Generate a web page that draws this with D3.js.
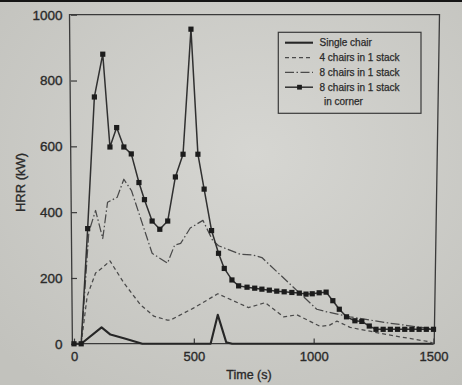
<!DOCTYPE html>
<html><head><meta charset="utf-8">
<script src="https://cdn.jsdelivr.net/npm/d3@7"></script>
<style>html,body{margin:0;padding:0;background:#cfcfcb;}svg{display:block}</style>
</head><body><svg id="c" width="462" height="385"></svg>
<script>
// ---- data ----
const legendLabels = ["Single chair", "4 chairs in 1 stack", "8 chairs in 1 stack", "8 chairs in 1 stack"];
const legendSub = "in corner";
const xTitle = "Time (s)";
const yTitle = "HRR (kW)";
const xTicks = [0, 500, 1000, 1500];
const yTicks = [0, 200, 400, 600, 800, 1000];

const singleT = [0, 30, 115, 152, 215, 285, 570, 600, 635, 660, 1500];
const singleY = [0, 0, 50, 28, 15, 0, 0, 88, 5, 0, 0];

const fourT = [0, 30, 55, 90, 117, 150, 208, 277, 333, 390, 402, 500, 600, 728, 798, 874, 930, 1027, 1065, 1097, 1152, 1305, 1485, 1500];
const fourY = [0, 0, 145, 215, 230, 252, 185, 119, 84, 72, 72, 109, 152, 110, 125, 82, 88, 53, 56, 69, 50, 28, 6, 0];

const eightT = [0, 30, 62, 90, 120, 140, 180, 208, 240, 326, 390, 420, 445, 485, 538, 578, 603, 694, 745, 784, 1013, 1055, 1152, 1305, 1500];
const eightY = [0, 0, 340, 405, 320, 430, 445, 500, 465, 275, 245, 300, 305, 352, 375, 315, 298, 272, 270, 262, 105, 97, 82, 64, 45];

const cornerT = [0, 30, 57, 85, 120, 150, 178, 208, 239, 271, 294, 326, 358, 391, 423, 455, 488, 517, 543, 574, 603, 627, 659, 687, 722, 754, 784, 815, 846, 877, 909, 940, 968, 994, 1023, 1052, 1080, 1107, 1137, 1172, 1201, 1232, 1260, 1290, 1320, 1350, 1380, 1410, 1440, 1470, 1500];
const cornerY = [0, 0, 350, 750, 880, 598, 657, 598, 577, 490, 438, 373, 348, 373, 507, 576, 956, 576, 470, 344, 275, 229, 194, 176, 172, 169, 166, 163, 160, 158, 156, 154, 151, 152, 155, 157, 131, 105, 82, 70, 68, 54, 44, 44, 44, 44, 44, 44, 44, 44, 44];

// ---- drawing ----
const svg = d3.select("#c");
const defs = svg.append("defs");
const rg = defs.append("radialGradient").attr("id", "bg").attr("cx", "55%").attr("cy", "40%").attr("r", "75%");
rg.append("stop").attr("offset", "0%").attr("stop-color", "#d6d6d2");
rg.append("stop").attr("offset", "100%").attr("stop-color", "#c2c2bd");
svg.append("rect").attr("width", 462).attr("height", 385).attr("fill", "url(#bg)");
svg.append("rect").attr("width", 462).attr("height", 2).attr("fill", "#151515");

const x = d3.scaleLinear().domain([0, 1500]).range([74, 433.5]);
const y = d3.scaleLinear().domain([0, 1000]).range([343.8, 14.7]);

const ink = "#2a2a2a";
const font = "'Liberation Sans', Arial, sans-serif";
function inkText(sel) {
  sel.attr("font-family", font).attr("fill", ink).attr("stroke", ink).attr("stroke-width", 0.35);
}

// frame (photo is slightly keystoned)
svg.append("path")
  .attr("d", "M69.5,14.6 L439.5,14.6 L434.2,343.6 L72.4,343.6 Z")
  .attr("fill", "none").attr("stroke", "#3a3a3a").attr("stroke-width", 1.3);

// axes
const gx = svg.append("g").attr("transform", "translate(0,343.6)")
  .call(d3.axisBottom(x).tickValues(xTicks).tickSizeInner(-5).tickSizeOuter(0).tickPadding(8).tickFormat(d3.format("d")));
gx.select(".domain").remove();
gx.selectAll("line").attr("stroke", "#3a3a3a").attr("stroke-width", 1.2);
gx.selectAll("text").attr("font-size", 13).call(inkText);

const gy = svg.append("g").attr("transform", "translate(71,0)")
  .call(d3.axisLeft(y).tickValues(yTicks).tickSizeInner(-6).tickSizeOuter(0).tickPadding(8.5).tickFormat(d3.format("d")));
gy.select(".domain").remove();
gy.selectAll("line").attr("stroke", "#3a3a3a").attr("stroke-width", 1.2);
gy.selectAll("text").attr("font-size", 13.5).call(inkText);

svg.append("text").attr("x", 249).attr("y", 379).attr("text-anchor", "middle")
  .attr("font-size", 12.5).call(inkText).text(xTitle);
svg.append("text").attr("transform", "translate(24.5,182.5) rotate(-90)").attr("text-anchor", "middle")
  .attr("font-size", 13).call(inkText).text(yTitle);

const line = d3.line().x(d => x(d[0])).y(d => y(d[1]));
const styles = [
  {stroke: "#262626", w: 2.1, dash: null},
  {stroke: "#4a4a4a", w: 1.25, dash: "4,3"},
  {stroke: "#4a4a4a", w: 1.25, dash: "9,2.5,1.5,2.5"},
  {stroke: "#303030", w: 1.5, dash: null}
];
const series = [d3.zip(singleT, singleY), d3.zip(fourT, fourY), d3.zip(eightT, eightY), d3.zip(cornerT, cornerY)];
series.forEach((s, i) => {
  svg.append("path").datum(s).attr("d", line).attr("fill", "none")
    .attr("stroke", styles[i].stroke).attr("stroke-width", styles[i].w)
    .attr("stroke-dasharray", styles[i].dash).attr("stroke-linejoin", "round");
});
svg.append("g").selectAll("rect").data(series[3]).join("rect")
  .attr("x", d => x(d[0]) - 2.6).attr("y", d => y(d[1]) - 2.6)
  .attr("width", 5.2).attr("height", 5.2).attr("fill", "#1c1c1c");

// legend
const lg = svg.append("g");
lg.append("rect").attr("x", 278.3).attr("y", 32.3).attr("width", 142.7).attr("height", 81)
  .attr("fill", "none").attr("stroke", "#3a3a3a").attr("stroke-width", 1.2);
const rowY = [42.7, 57.5, 72.3, 87.2];
legendLabels.forEach((lab, i) => {
  lg.append("line").attr("x1", 285).attr("x2", 313).attr("y1", rowY[i]).attr("y2", rowY[i])
    .attr("stroke", styles[i].stroke).attr("stroke-width", styles[i].w).attr("stroke-dasharray", styles[i].dash);
  lg.append("text").attr("x", 319.5).attr("y", rowY[i] + 3.6)
    .attr("font-size", 10).call(inkText).attr("stroke-width", 0.25).text(lab);
});
lg.append("rect").attr("x", 299.5 - 2.4).attr("y", rowY[3] - 2.4).attr("width", 4.8).attr("height", 4.8).attr("fill", "#1c1c1c");
lg.append("text").attr("x", 324).attr("y", 101.7 + 3.6)
  .attr("font-size", 10).call(inkText).attr("stroke-width", 0.25).text(legendSub);
</script></body></html>
